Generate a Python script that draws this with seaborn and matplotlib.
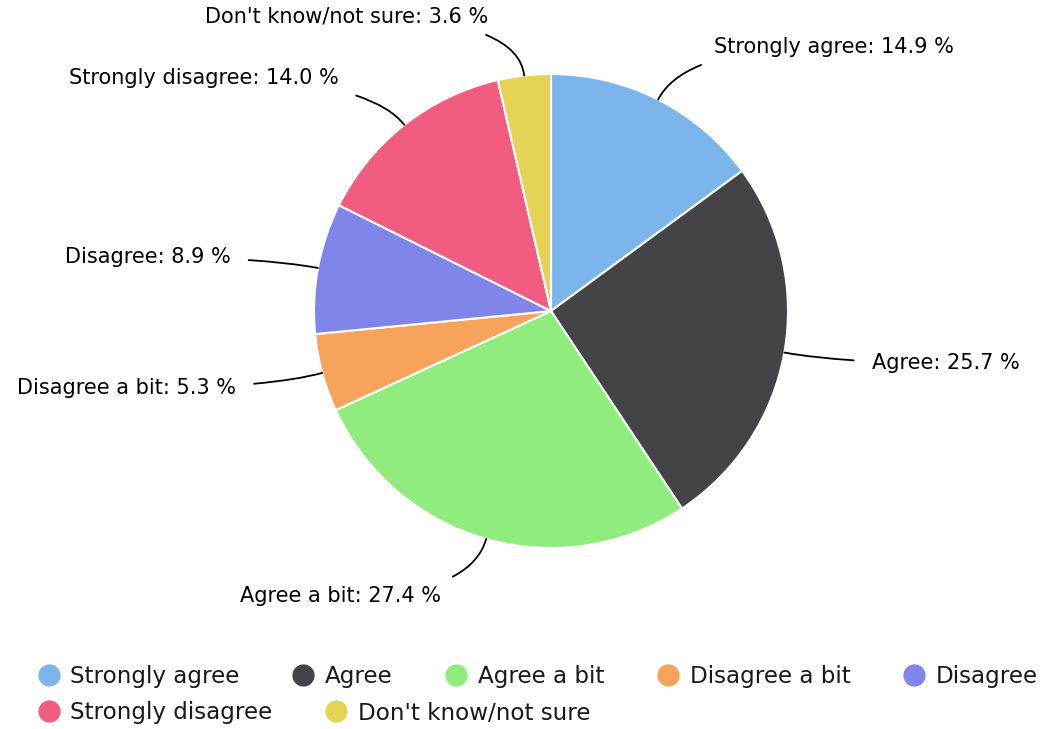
import numpy as np
import matplotlib.pyplot as plt
import seaborn as sns
from matplotlib.lines import Line2D

# Dati del grafico
categories = ["Strongly agree", "Agree", "Agree a bit", "Disagree a bit",
              "Disagree", "Strongly disagree", "Don't know/not sure"]
percentages = [14.9, 25.7, 27.4, 5.3, 8.9, 14.0, 3.6]
colors = ["#7cb5ec", "#434348", "#90ed7d", "#f7a35c",
          "#8085e9", "#f15c80", "#e4d354"]

sns.set_theme(style="white")
plt.rcParams['font.family'] = ['DejaVu Sans']

W, H = 1048, 729
fig = plt.figure(figsize=(W / 100, H / 100), dpi=100)
fig.patch.set_facecolor("white")

# posizione della torta (pixel)
R = 237
cx, cy = 551, 311
ax = fig.add_axes([(cx - R) / W, (H - cy - R) / H, 2 * R / W, 2 * R / H])

wedges, _ = ax.pie(percentages, colors=colors, startangle=90, counterclock=False,
                   radius=1, wedgeprops=dict(edgecolor="white", linewidth=1.5))
ax.set_xlim(-1, 1)
ax.set_ylim(-1, 1)
ax.set_aspect("equal")
ax.axis("off")

# etichette con connettori curvi
k = 1.25
gap = 15 / R
extra = 0.06
for w, cat, val in zip(wedges, categories, percentages):
    theta = (w.theta1 + w.theta2) / 2
    x, y = np.cos(np.radians(theta)), np.sin(np.radians(theta))
    side = 1 if x >= 0 else -1
    txt = (k * x + side * (gap + extra), k * y)
    ax.annotate(f"{cat}: {val:.1f} %", xy=(x, y), xytext=txt,
                ha="left" if side > 0 else "right", va="center",
                fontsize=15, color="black", annotation_clip=False,
                arrowprops=dict(arrowstyle="-", color="black", lw=1.3,
                                shrinkA=gap * R * 0.72, shrinkB=0,
                                connectionstyle=f"angle3,angleA=0,angleB={theta}"))

# legenda su due righe
def handle(c):
    return Line2D([], [], marker="o", linestyle="none", markersize=15,
                  markerfacecolor=c, markeredgecolor=c)

handles = [handle(c) for c in colors]
leg_kw = dict(frameon=False, loc="center left", fontsize=16.6, handlelength=1.0,
              handletextpad=0.45, columnspacing=2.25, borderaxespad=0, borderpad=0,
              labelcolor="#1a1a1a")
leg1 = fig.legend(handles[:5], categories[:5], ncol=5,
                  bbox_to_anchor=(37 / W, 1 - 677 / H), **leg_kw)
leg2 = fig.legend(handles[5:], categories[5:], ncol=2,
                  bbox_to_anchor=(37 / W, 1 - 713 / H), **leg_kw)

fig.savefig("out.png", dpi=100, facecolor="white")
